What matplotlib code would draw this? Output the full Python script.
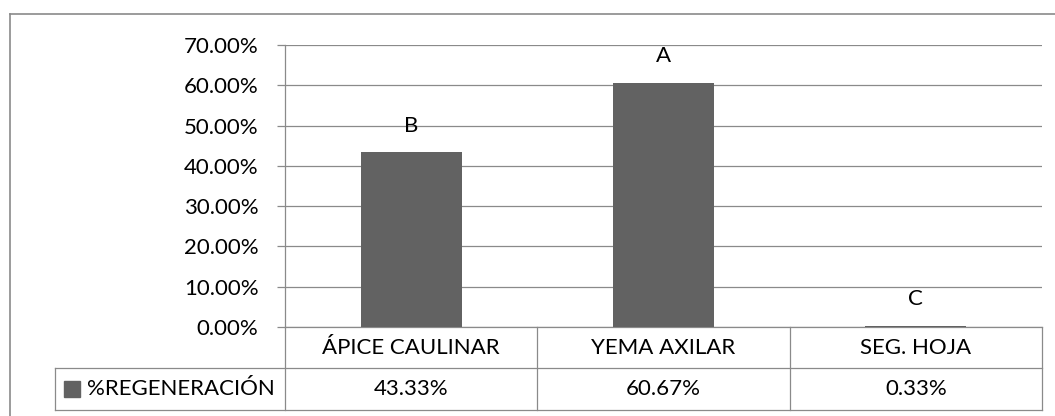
import matplotlib
matplotlib.use("Agg")
import matplotlib.pyplot as plt
import matplotlib.transforms as mtransforms
from matplotlib.lines import Line2D
from matplotlib.ticker import PercentFormatter

# Data
categories = ["ÁPICE CAULINAR", "YEMA AXILAR", "SEG. HOJA"]
regeneracion = [0.4333, 0.6067, 0.0033]
letters = ["B", "A", "C"]
series_name = "%REGENERACIÓN"

plt.rcParams["font.family"] = ["Lato", "DejaVu Sans"]

W, H = 1055, 416
fig = plt.figure(figsize=(W / 100, H / 100), dpi=100)
ax = fig.add_axes([285 / W, 89 / H, 757 / W, 282 / H])

grey = "#8a8a8a"
bar_color = "#626262"
fs = 16

x = list(range(len(categories)))
ax.bar(x, regeneracion, width=0.4, color=bar_color, zorder=3)

# significance letters above bars
for xi, v, lab in zip(x, regeneracion, letters):
    ax.annotate(lab, (xi, v), xytext=(0, 19), textcoords="offset points",
                ha="center", va="center", fontsize=fs)

ax.set_xlim(-0.5, 2.5)
ax.set_ylim(0, 0.7)
ax.set_yticks([i / 10 for i in range(8)])
ax.yaxis.set_major_formatter(PercentFormatter(1.0, decimals=2))
ax.set_xticks([])
ax.grid(axis="y", color=grey, linewidth=0.9, zorder=0)
for s in ["top", "right"]:
    ax.spines[s].set_visible(False)
for s in ["left", "bottom"]:
    ax.spines[s].set_color(grey)
    ax.spines[s].set_linewidth(0.9)
ax.tick_params(axis="y", length=6, width=0.9, color=grey, pad=13, labelsize=fs)


def fy(py):
    return 1 - py / H


# data table below the axis (x in data units, y in figure pixels)
trans = mtransforms.blended_transform_factory(ax.transData, fig.transFigure)
px_per_unit = 757 / 3
left_cell = -0.5 - (285 - 55) / px_per_unit


def tline(xs, ys):
    ln = Line2D(xs, ys, transform=trans, color=grey, linewidth=0.9, clip_on=False)
    fig.add_artist(ln)


for yy in [368, 410]:
    tline([left_cell, 2.5], [fy(yy), fy(yy)])
tline([left_cell, left_cell], [fy(368), fy(410)])
for xb in [-0.5, 0.5, 1.5, 2.5]:
    tline([xb, xb], [fy(327), fy(410)])

for xi, cat, v in zip(x, categories, regeneracion):
    fig.text(xi, fy(348), cat, transform=trans, ha="center", va="center", fontsize=fs)
    fig.text(xi, fy(389), f"{v:.2%}", transform=trans, ha="center", va="center", fontsize=fs)

key_x = -0.5 - (285 - 72) / px_per_unit
txt_x = -0.5 - (285 - 87) / px_per_unit
fig.add_artist(Line2D([key_x], [fy(389)], transform=trans, marker="s", markersize=11,
                      color=bar_color, linestyle="none"))
fig.text(txt_x, fy(389), series_name, transform=trans, ha="left", va="center", fontsize=fs)

# chart area border (left and top visible)
fig.add_artist(Line2D([10 / W, 10 / W], [0, fy(14)], color=grey, linewidth=1.2))
fig.add_artist(Line2D([10 / W, 1], [fy(14), fy(14)], color=grey, linewidth=1.2))

fig.savefig("out.png", dpi=100)
